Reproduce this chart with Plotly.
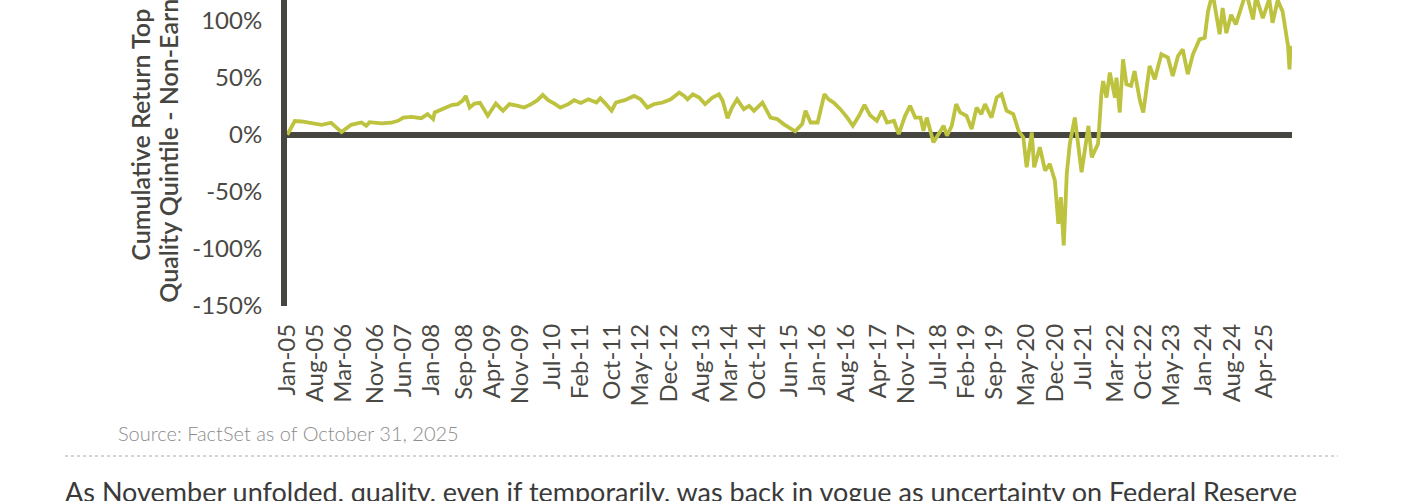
import plotly.graph_objects as go

# ---- data ----
dates = [
    "2005-01-03", "2005-03-01", "2005-04-21", "2005-07-01", "2005-09-21", "2005-12-01",
    "2006-01-07", "2006-02-18", "2006-05-01", "2006-07-18", "2006-08-24", "2006-09-18",
    "2006-12-18", "2007-03-01", "2007-04-21", "2007-06-01", "2007-08-01", "2007-10-15",
    "2007-12-01", "2008-01-12", "2008-01-24", "2008-04-01", "2008-06-01", "2008-07-18",
    "2008-08-24", "2008-09-15", "2008-10-15", "2008-11-21", "2009-01-01", "2009-03-01",
    "2009-05-01", "2009-06-24", "2009-08-12", "2009-10-15", "2009-12-01", "2010-01-24",
    "2010-03-12", "2010-04-21", "2010-06-01", "2010-07-18", "2010-09-01", "2010-11-01",
    "2010-12-15", "2011-02-03", "2011-04-01", "2011-06-01", "2011-07-01", "2011-08-12",
    "2011-09-24", "2011-10-27", "2012-01-01", "2012-03-12", "2012-05-01", "2012-06-21",
    "2012-08-12", "2012-10-15", "2012-12-15", "2013-02-18", "2013-03-27", "2013-04-21",
    "2013-06-01", "2013-07-18", "2013-09-01", "2013-10-27", "2013-12-15", "2014-01-12",
    "2014-02-18", "2014-03-24", "2014-05-01", "2014-06-21", "2014-08-01", "2014-09-06",
    "2014-11-09", "2015-01-09", "2015-03-01", "2015-04-18", "2015-07-15", "2015-09-06",
    "2015-10-01", "2015-11-09", "2016-01-01", "2016-02-21", "2016-03-24", "2016-05-01",
    "2016-06-21", "2016-08-12", "2016-09-24", "2016-11-09", "2016-12-21", "2017-02-01",
    "2017-03-24", "2017-05-01", "2017-06-09", "2017-08-01", "2017-09-06", "2017-10-24",
    "2017-12-01", "2018-01-09", "2018-02-18", "2018-03-12", "2018-04-06", "2018-05-27",
    "2018-07-15", "2018-08-12", "2018-09-06", "2018-10-12", "2018-11-15", "2018-12-15",
    "2019-02-01", "2019-03-12", "2019-04-18", "2019-05-24", "2019-06-21", "2019-08-09",
    "2019-09-18", "2019-10-24", "2019-12-01", "2020-01-21", "2020-03-01", "2020-04-06",
    "2020-05-01", "2020-06-09", "2020-06-27", "2020-08-09", "2020-09-18", "2020-10-24",
    "2020-12-01", "2020-12-27", "2021-01-15", "2021-02-06", "2021-03-01", "2021-03-24",
    "2021-05-01", "2021-06-21", "2021-08-12", "2021-09-06", "2021-09-18", "2021-10-24",
    "2021-11-18", "2021-12-01", "2021-12-27", "2022-01-21", "2022-03-01", "2022-03-12",
    "2022-04-06", "2022-05-01", "2022-05-27", "2022-07-01", "2022-07-27", "2022-09-06",
    "2022-10-01", "2022-11-18", "2022-12-27", "2023-02-15", "2023-04-06", "2023-05-12",
    "2023-06-21", "2023-07-27", "2023-09-03", "2023-10-12", "2023-12-01", "2024-01-09",
    "2024-02-03", "2024-03-09", "2024-05-01", "2024-05-24", "2024-06-21", "2024-07-27",
    "2024-09-01", "2024-10-12", "2024-11-18", "2025-01-09", "2025-02-01", "2025-03-24",
    "2025-05-12", "2025-06-06", "2025-07-15", "2025-08-21", "2025-10-01", "2025-10-12",
    "2025-10-21", "2025-10-31",
]
cum_return = [
    0, 12, 11.6, 10.5, 8.7, 10.5,
    7, 2.3, 8.7, 10.7, 7.8, 11,
    9.9, 10.5, 12.2, 15, 15.7, 14.5,
    18, 13.7, 19.5, 23, 26, 26.8,
    30, 34, 23.8, 27.3, 28, 16.6,
    27.3, 21, 26.8, 25.3, 23.8, 26.8,
    30.3, 34.9, 30.3, 27.3, 23.8, 26.8,
    30.3, 27.8, 31, 28.2, 32, 26.8,
    21, 28.2, 30.3, 34, 31, 23.8,
    26.8, 28.2, 31, 36.9, 34, 31,
    35.5, 32.6, 26.8, 32.6, 35.5, 29.7,
    14.5, 23.8, 31, 22.4, 25.3, 21,
    28.2, 15, 13.7, 9.3, 2.9, 9.3,
    21, 10.7, 10.7, 35.5, 31, 28.2,
    22.4, 15, 7.8, 16.6, 26.2, 17,
    12.2, 21, 10.7, 12.2, 0.6, 16.6,
    25.3, 15, 15, 3.5, 15, -6.7,
    2, 7.8, -0.9, 7.8, 26.8, 19.5,
    16.6, 5, 23.8, 18, 26.8, 15,
    32.6, 35.5, 21, 18, 3.5, -2.3,
    -28.5, 2, -28.5, -11, -31.4, -25.6,
    -40.1, -78, -54.7, -96.9, -34.3, -8,
    15, -32.9, 7.8, -19.8, -16.8, -8,
    35.5, 47, 32.6, 54.4, 32.6, 50,
    19.5, 66, 44.2, 42.8, 55.8, 29.7,
    19.5, 60.2, 48.6, 70.4, 67.5, 51.5,
    69, 74.8, 53, 70.4, 83.5, 84.9,
    108, 124, 88, 111, 89, 105,
    96.6, 111, 125, 101, 121, 102,
    119, 98, 118, 108, 77.7, 57.3,
    77.7, 66,
]
tick_dates = [
    "2005-01-01", "2005-08-01", "2006-03-01", "2006-11-01", "2007-06-01", "2008-01-01",
    "2008-09-01", "2009-04-01", "2009-11-01", "2010-07-01", "2011-02-01", "2011-10-01",
    "2012-05-01", "2012-12-01", "2013-08-01", "2014-03-01", "2014-10-01", "2015-06-01",
    "2016-01-01", "2016-08-01", "2017-04-01", "2017-11-01", "2018-07-01", "2019-02-01",
    "2019-09-01", "2020-05-01", "2020-12-01", "2021-07-01", "2022-03-01", "2022-10-01",
    "2023-05-01", "2024-01-01", "2024-08-01", "2025-04-01",
]
tick_labels = [
    "Jan-05", "Aug-05", "Mar-06", "Nov-06", "Jun-07", "Jan-08",
    "Sep-08", "Apr-09", "Nov-09", "Jul-10", "Feb-11", "Oct-11",
    "May-12", "Dec-12", "Aug-13", "Mar-14", "Oct-14", "Jun-15",
    "Jan-16", "Aug-16", "Apr-17", "Nov-17", "Jul-18", "Feb-19",
    "Sep-19", "May-20", "Dec-20", "Jul-21", "Mar-22", "Oct-22",
    "May-23", "Jan-24", "Aug-24", "Apr-25",
]
y_ticks = [-150, -100, -50, 0, 50, 100, 150]
y_title_lines = ["Cumulative Return Top", "Quality Quintile - Non-Earners"]
source_text = "Source: FactSet as of October 31, 2025"
body_text = ("As November unfolded, quality, even if temporarily, was back in vogue "
             "as uncertainty on Federal Reserve")

# ---- layout constants ----
W, H = 1401, 501
L, R = 287, 1292          # plot area left/right pixels
T, B = 0, 306             # plot area top/bottom pixels
PW, PH = R - L, B - T

def px_x(p):
    return (p - L) / PW

def px_y(p):
    return (B - p) / PH

DARK = "#46453F"
LINE = "#BDC23F"
FONT = "Lato"

fig = go.Figure()
fig.add_trace(go.Scatter(
    x=dates, y=cum_return, mode="lines",
    line=dict(color=LINE, width=3.8), hoverinfo="skip", showlegend=False,
))

fig.update_layout(
    width=W, height=H,
    margin=dict(l=L, r=W - R, t=T, b=H - B, pad=0),
    paper_bgcolor="white", plot_bgcolor="white",
    font=dict(family=FONT, color="#4A4944"),
    showlegend=False,
)
fig.update_xaxes(
    type="date", range=["2005-01-01", "2025-10-31"],
    tickmode="array", tickvals=tick_dates, ticktext=tick_labels,
    tickangle=-90, tickfont=dict(size=24, color="#4A4944", family=FONT),
    showgrid=False, zeroline=False, showline=False, ticks="",
    ticklabelstandoff=12,
)
fig.update_yaxes(
    range=[-150, 118], tickmode="array", tickvals=y_ticks,
    ticktext=[f"{v}%" for v in y_ticks],
    tickfont=dict(size=24, color="#4A4944", family=FONT),
    showgrid=False, zeroline=True, zerolinecolor=DARK, zerolinewidth=6,
    showline=True, linecolor=DARK, linewidth=6, ticks="",
    ticklabelstandoff=14,
)

for xpos, line_text in zip([140, 168], y_title_lines):
    fig.add_annotation(
        text=line_text, xref="paper", yref="y", x=px_x(xpos), y=0,
        xanchor="center", yanchor="middle", textangle=-90, showarrow=False,
        font=dict(family=FONT, size=25, color=DARK, weight=600),
    )
fig.add_annotation(
    text=source_text, xref="paper", yref="paper", x=px_x(116), y=px_y(433),
    xanchor="left", yanchor="middle", showarrow=False,
    font=dict(family=FONT, size=20, color="#8C8C8C", weight=300),
)
fig.add_shape(
    type="line", xref="paper", yref="paper",
    x0=px_x(65), x1=px_x(1338), y0=px_y(456), y1=px_y(456),
    line=dict(color="#AAAAAA", width=1, dash="dot"),
)
fig.add_annotation(
    text=body_text, xref="paper", yref="paper", x=px_x(63), y=px_y(491),
    xanchor="left", yanchor="middle", showarrow=False,
    font=dict(family=FONT, size=27, color="#3A3A3A"),
)

fig.write_html(
    "out.html",
    config={"displayModeBar": False},
    post_script="document.body.style.margin='0px';",
)
